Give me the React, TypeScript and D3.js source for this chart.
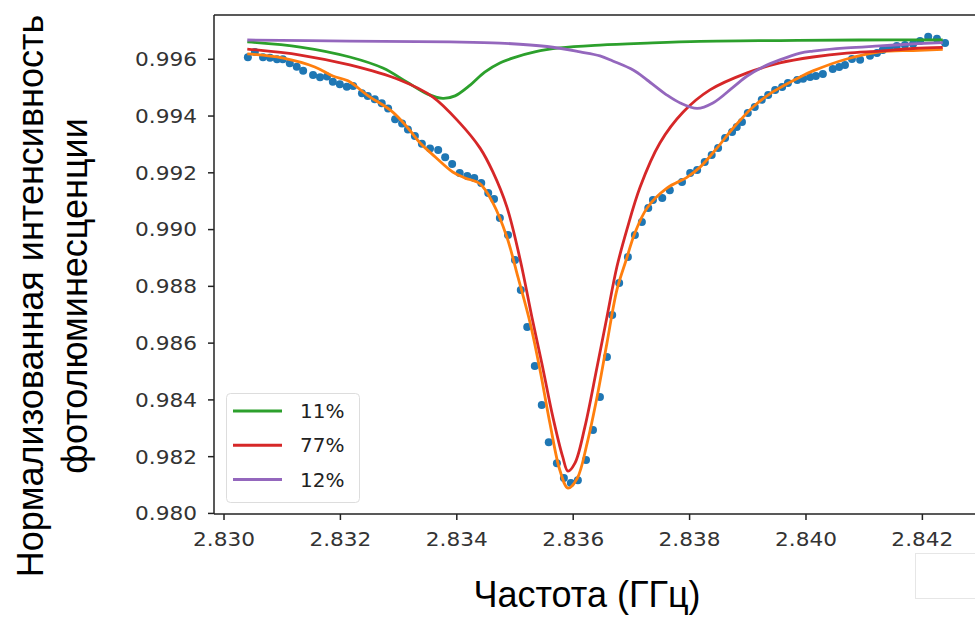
import React from "react";
import * as d3 from "d3";

// Measured data (frequency, GHz / normalized PL)
const dataX = [2.83041,2.83053,2.83067,2.83079,2.83091,2.83101,2.83113,2.83125,2.83136,2.83153,2.83165,2.83177,2.83187,2.83199,2.83211,2.83222,2.83237,2.83247,2.83259,2.83271,2.83282,2.83294,2.83306,2.83316,2.83328,2.83340,2.83354,2.83368,2.83380,2.83392,2.83405,2.83418,2.83430,2.83442,2.83454,2.83464,2.83474,2.83488,2.83500,2.83510,2.83521,2.83534,2.83546,2.83558,2.83572,2.83584,2.83596,2.83608,2.83622,2.83634,2.83646,2.83658,2.83667,2.83679,2.83694,2.83706,2.83718,2.83729,2.83737,2.83753,2.83766,2.83787,2.83801,2.83813,2.83826,2.83838,2.83849,2.83861,2.83873,2.83881,2.83890,2.83900,2.83912,2.83924,2.83935,2.83947,2.83959,2.83969,2.83985,2.83995,2.84007,2.84017,2.84029,2.84046,2.84057,2.84067,2.84079,2.84093,2.84110,2.84122,2.84132,2.84144,2.84156,2.84170,2.84184,2.84196,2.84210,2.84225,2.84239];
const dataY = [0.99607,0.99626,0.99607,0.99605,0.99600,0.99600,0.99586,0.99574,0.99560,0.99545,0.99537,0.99539,0.99521,0.99512,0.99503,0.99506,0.99480,0.99471,0.99459,0.99445,0.99427,0.99389,0.99374,0.99353,0.99330,0.99302,0.99286,0.99280,0.99255,0.99231,0.99199,0.99189,0.99182,0.99164,0.99129,0.99108,0.99041,0.98981,0.98893,0.98787,0.98657,0.98519,0.98382,0.98251,0.98177,0.98125,0.98107,0.98117,0.98188,0.98294,0.98410,0.98551,0.98699,0.98812,0.98903,0.98981,0.99027,0.99076,0.99104,0.99111,0.99139,0.99168,0.99199,0.99210,0.99238,0.99263,0.99287,0.99323,0.99344,0.99361,0.99379,0.99411,0.99432,0.99457,0.99474,0.99492,0.99502,0.99516,0.99527,0.99531,0.99538,0.99541,0.99548,0.99566,0.99573,0.99580,0.99601,0.99598,0.99612,0.99622,0.99633,0.99640,0.99647,0.99650,0.99654,0.99664,0.99679,0.99672,0.99657];

// Total fit (orange)
const fitX = [2.83040,2.83100,2.83156,2.83187,2.83213,2.83246,2.83290,2.83316,2.83337,2.83363,2.83393,2.83414,2.83440,2.83462,2.83486,2.83505,2.83526,2.83543,2.83560,2.83577,2.83591,2.83607,2.83624,2.83641,2.83658,2.83675,2.83691,2.83706,2.83727,2.83761,2.83796,2.83818,2.83847,2.83875,2.83909,2.83943,2.83990,2.84012,2.84070,2.84127,2.84184,2.84235];
const fitY = [0.99619,0.99605,0.99573,0.99541,0.99524,0.99474,0.99414,0.99358,0.99305,0.99256,0.99203,0.99182,0.99161,0.99094,0.98974,0.98833,0.98671,0.98505,0.98318,0.98153,0.98089,0.98124,0.98248,0.98410,0.98600,0.98787,0.98893,0.98988,0.99076,0.99146,0.99185,0.99220,0.99287,0.99358,0.99432,0.99485,0.99538,0.99559,0.99601,0.99626,0.99631,0.99635];

// Component 11% (green)
const greenX = [2.83040,2.83131,2.83216,2.83273,2.83314,2.83349,2.83376,2.83397,2.83423,2.83448,2.83474,2.83497,2.83534,2.83577,2.83646,2.83727,2.83818,2.83955,2.84093,2.84235];
const greenY = [0.99661,0.99643,0.99608,0.99569,0.99520,0.99478,0.99462,0.99471,0.99509,0.99555,0.99587,0.99605,0.99626,0.99640,0.99650,0.99657,0.99663,0.99666,0.99668,0.99668];

// Component 77% (red)
const redX = [2.83040,2.83131,2.83216,2.83302,2.83359,2.83405,2.83440,2.83462,2.83486,2.83509,2.83529,2.83546,2.83565,2.83582,2.83591,2.83603,2.83620,2.83641,2.83658,2.83675,2.83692,2.83715,2.83749,2.83789,2.83835,2.83899,2.83955,2.84012,2.84070,2.84127,2.84184,2.84235];
const redY = [0.99636,0.99615,0.99580,0.99527,0.99467,0.99376,0.99287,0.99203,0.99080,0.98893,0.98692,0.98530,0.98340,0.98199,0.98149,0.98177,0.98304,0.98516,0.98692,0.98868,0.98998,0.99150,0.99305,0.99414,0.99492,0.99552,0.99587,0.99608,0.99622,0.99629,0.99638,0.99642];

// Component 12% (purple)
const purpleX = [2.83040,2.83216,2.83388,2.83474,2.83555,2.83612,2.83646,2.83668,2.83703,2.83727,2.83761,2.83784,2.83813,2.83840,2.83875,2.83899,2.83926,2.83955,2.83990,2.84012,2.84070,2.84127,2.84184,2.84235];
const purpleY = [0.99668,0.99664,0.99661,0.99657,0.99645,0.99626,0.99612,0.99594,0.99562,0.99527,0.99474,0.99446,0.99427,0.99446,0.99502,0.99541,0.99573,0.99598,0.99622,0.99629,0.99640,0.99647,0.99654,0.99659];

const xTicks = [2.830, 2.832, 2.834, 2.836, 2.838, 2.840, 2.842];
const yTicks = [0.980, 0.982, 0.984, 0.986, 0.988, 0.990, 0.992, 0.994, 0.996];
const legendLabels = ["11%", "77%", "12%"];
const xLabel = "Частота (ГГц)";
const yLabel1 = "Нормализованная интенсивность";
const yLabel2 = "фотолюминесценции";

const W = 975, H = 617;
const L = 214, R = 980, T = 15, B = 514;

export default function App() {
  const x = d3.scaleLinear().domain([2.829828, 2.84299]).range([L, R]);
  const y = d3.scaleLinear().domain([0.97998, 0.99756]).range([B, T]);
  const line = (xs: number[], ys: number[]) =>
    d3.line<number>().x((_, i) => x(xs[i])).y((_, i) => y(ys[i])).curve(d3.curveCatmullRom.alpha(0.5))(xs.map((_, i) => i)) || "";
  const fmt = d3.format(".3f");
  const comps = [
    { xs: greenX, ys: greenY, c: "#2ca02c" },
    { xs: redX, ys: redY, c: "#d62728" },
    { xs: purpleX, ys: purpleY, c: "#9467bd" },
  ];
  return (
    <svg width={W} height={H} style={{ position: "absolute", left: 0, top: 0, background: "#fff" }}>
      <defs>
        <clipPath id="pa"><rect x={L} y={T} width={R - L} height={B - T} /></clipPath>
      </defs>
      <rect width={W} height={H} fill="#fff" />
      <g clipPath="url(#pa)">
        {dataX.map((d, i) => (
          <circle key={i} cx={x(d)} cy={y(dataY[i])} r={4} fill="#1f77b4" />
        ))}
        <path d={line(fitX, fitY)} fill="none" stroke="#ff7f0e" strokeWidth={2.8} />
        {comps.map((c, i) => (
          <path key={i} d={line(c.xs, c.ys)} fill="none" stroke={c.c} strokeWidth={2.8} />
        ))}
      </g>
      {/* spines */}
      <line x1={L} x2={L} y1={T} y2={B} stroke="#222" strokeWidth={1.5} />
      <line x1={L} x2={W} y1={B} y2={B} stroke="#222" strokeWidth={1.5} />
      <line x1={L} x2={W} y1={T} y2={T} stroke="#222" strokeWidth={1.5} />
      {/* y ticks */}
      {yTicks.map((t) => (
        <g key={t}>
          <line x1={L - 6} x2={L} y1={y(t)} y2={y(t)} stroke="#222" strokeWidth={1.5} />
          <text x={197} y={y(t)} dy="0.36em" textAnchor="end" fontFamily="DejaVu Sans" fontSize={19} fill="#333"
            textLength={62} lengthAdjust="spacingAndGlyphs">{fmt(t)}</text>
        </g>
      ))}
      {/* x ticks */}
      {xTicks.map((t) => (
        <g key={t}>
          <line x1={x(t)} x2={x(t)} y1={B} y2={B + 6} stroke="#222" strokeWidth={1.5} />
          <text x={x(t)} y={546} textAnchor="middle" fontFamily="DejaVu Sans" fontSize={19} fill="#333"
            textLength={62} lengthAdjust="spacingAndGlyphs">{fmt(t)}</text>
        </g>
      ))}
      {/* legend */}
      <rect x={226.5} y={393.5} width={133} height={109} rx={4} fill="#fff" fillOpacity={0.8} stroke="#ddd" strokeWidth={1} />
      {comps.map((c, i) => (
        <g key={i}>
          <line x1={233} x2={282} y1={411 + i * 34.2} y2={411 + i * 34.2} stroke={c.c} strokeWidth={3} />
          <text x={300} y={411 + i * 34.2} dy="0.36em" fontFamily="DejaVu Sans" fontSize={20} fill="#222">{legendLabels[i]}</text>
        </g>
      ))}
      {/* axis labels */}
      <text x={587} y={607} textAnchor="middle" fontFamily="Liberation Sans, Arial" fontSize={36} fill="#000">{xLabel}</text>
      <text transform="translate(43,296) rotate(-90)" textAnchor="middle" fontFamily="Liberation Sans, Arial" fontSize={36} fill="#000">{yLabel1}</text>
      <text transform="translate(87,296) rotate(-90)" textAnchor="middle" fontFamily="Liberation Sans, Arial" fontSize={36} fill="#000">{yLabel2}</text>
      {/* clipped artefact box */}
      <rect x={915.5} y={553.5} width={70} height={45} fill="#fff" stroke="#e6e6e6" strokeWidth={1} />
    </svg>
  );
}
